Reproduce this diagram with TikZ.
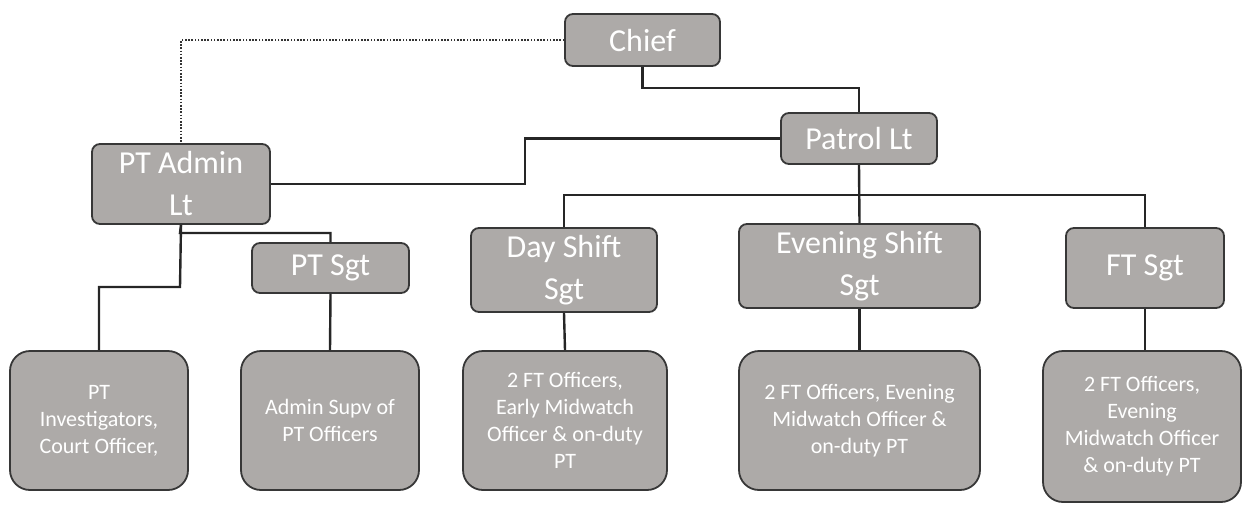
\documentclass[tikz,border=0pt]{standalone}
\usepackage{fontspec}
\setmainfont{Carlito}
\usepackage{tikz}
\definecolor{boxgray}{RGB}{173,170,168}
\definecolor{rimgray}{RGB}{55,55,55}
\tikzset{
  rank/.style={draw=rimgray, line width=1.8pt, fill=boxgray, rounded corners=8pt,
    text=white, align=center, inner sep=0pt, font=\fontsize{32}{42}\selectfont},
  crew/.style={draw=rimgray, line width=1.8pt, fill=boxgray, rounded corners=20pt,
    text=white, align=center, inner sep=0pt, minimum height=139pt, font=\fontsize{22}{27}\selectfont},
  link/.style={line width=2.4pt, draw=black!85}
}

\begin{document}
\begin{tikzpicture}[x=1pt, y=-1pt]
  \useasboundingbox (0, 0) rectangle (1243, 504);

  \node[rank, minimum width=155pt, minimum height=52pt] at (642.5, 40) (chief) {Chief};
  \node[rank, minimum width=156pt, minimum height=51pt] at (859, 138.5) (patrol) {Patrol Lt};
  \node[rank, minimum width=178pt, minimum height=80pt] at (181, 184) (admin) {PT Admin\\Lt};
  \node[rank, minimum width=157pt, minimum height=50pt] at (330.5, 268) (ptsgt) {PT Sgt};
  \node[rank, minimum width=186pt, minimum height=84pt] at (564, 270) (daysgt) {Day Shift\\Sgt};
  \node[rank, minimum width=241pt, minimum height=84pt] at (859.5, 266) (evesgt) {Evening Shift\\Sgt};
  \node[rank, minimum width=158pt, minimum height=80pt] at (1145, 268) (ftsgt) {FT Sgt};

  \node[crew, minimum width=178pt] at (99, 420.5) (invest) {PT\\Investigators,\\Court Officer,};
  \node[crew, minimum width=178pt] at (330, 420.5) (supv) {Admin Supv of\\PT Officers};
  \node[crew, minimum width=204pt] at (565, 420.5) (dayteam) {2 FT Officers,\\Early Midwatch\\Officer \& on-duty\\PT};
  \node[crew, minimum width=241pt] at (859.5, 420.5) (eveteam) {2 FT Officers, Evening\\Midwatch Officer \&\\on-duty PT};
  \node[crew, minimum width=198pt, minimum height=151pt] at (1142, 426.5) (ftteam) {2 FT Officers,\\Evening\\Midwatch Officer\\\& on-duty PT};

  % dotted staff line
  \draw[line width=1.8pt, draw=black!80, dash pattern=on 1.6pt off 1.6pt] (chief.west) -| (admin.north);

  \draw[link] (chief.south) -- (chief.south |- 0, 88) -| (patrol.north);
  \draw[link] (admin.east) -- (525, 184) |- (patrol.west);

  % patrol shifts
  \draw[link] (patrol.south) -- (evesgt.north);
  \draw[link] (daysgt.north) -- (daysgt.north |- 0, 195) -| (ftsgt.north);

  % admin side
  \draw[link] (admin.south) -- (180, 233) -| (ptsgt.north);
  \draw[link] (admin.south) -- (180, 287) -| (invest.north);
  \draw[link] (ptsgt.south) -- (supv.north);

  \draw[link] (daysgt.south) -- (dayteam.north);
  \draw[link] (evesgt.south) -- (eveteam.north);
  \draw[link] (ftsgt.south) -- (ftsgt.south |- ftteam.north);
\end{tikzpicture}
\end{document}
